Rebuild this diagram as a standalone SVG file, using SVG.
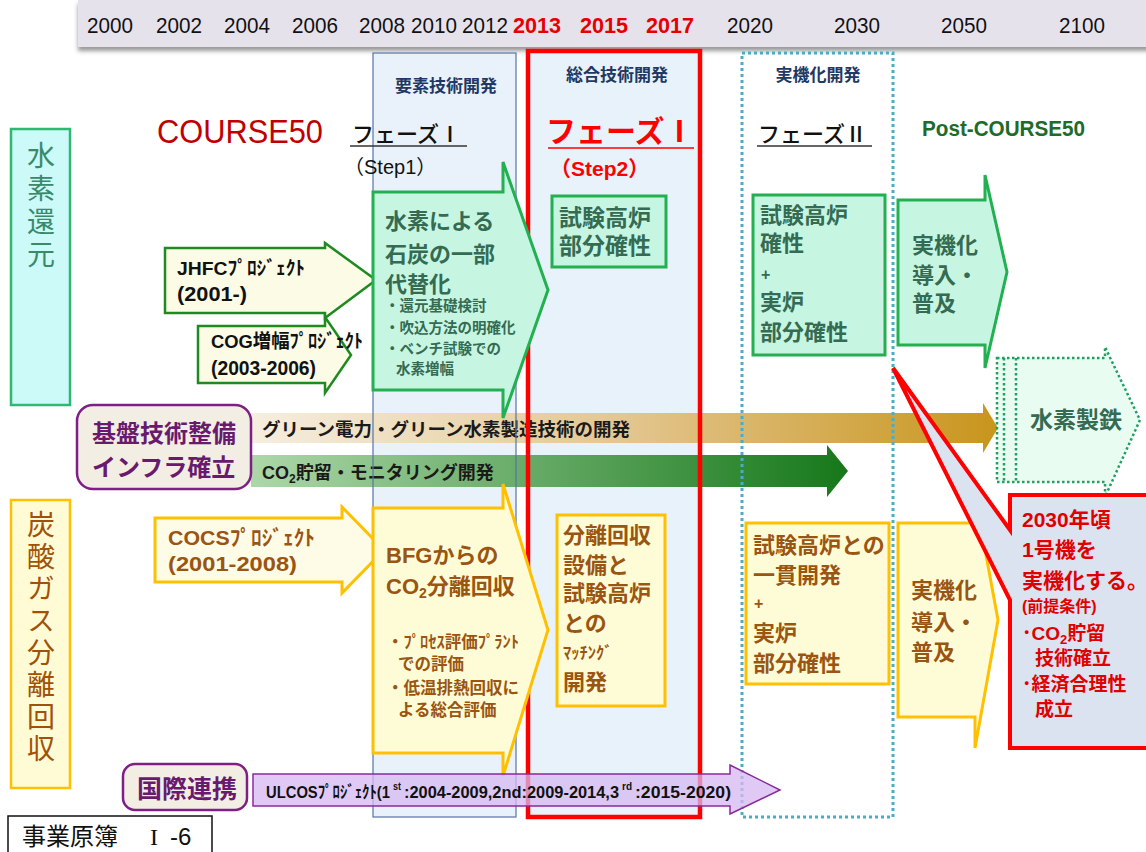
<svg xmlns="http://www.w3.org/2000/svg" width="1146" height="852" viewBox="0 0 1146 852">
<defs>
<filter id="sh" x="-5%" y="-30%" width="110%" height="180%"><feDropShadow dx="0" dy="4" stdDeviation="2" flood-color="#444" flood-opacity="0.55"/></filter>
<linearGradient id="gold" x1="0" x2="1" y1="0" y2="0"><stop offset="0" stop-color="#f6eedf"/><stop offset="0.5" stop-color="#e3c690"/><stop offset="1" stop-color="#c8951c"/></linearGradient>
<linearGradient id="grn" x1="0" x2="1" y1="0" y2="0"><stop offset="0" stop-color="#add7a9"/><stop offset="1" stop-color="#16781a"/></linearGradient>
<style>
.yr{font-family:"Liberation Sans",sans-serif;font-size:22px;fill:#111;text-anchor:middle}
.yrr{font-weight:bold;fill:#e60000}
.jp{font-family:"Liberation Sans","Noto Sans CJK JP",sans-serif}
.b{font-weight:bold}
.gt{fill:#356b52;font-weight:bold}
.bt{fill:#9a5512;font-weight:bold}
.rt{fill:#e00000;font-weight:bold}
.pt{fill:#6a1a6e;font-weight:bold}
.gbox{fill:#c6f6e2;stroke:#22b050;stroke-width:3}
.ybox{fill:#fefcd6;stroke:#ffc000;stroke-width:3}
.cream{fill:#fbfbe6;stroke:#1f8a1f;stroke-width:2.5}
.ycream{fill:#fefbe6;stroke:#ffc000;stroke-width:3}
.pbox{fill:#f2eee4;stroke:#7f1f86;stroke-width:2.5}
.hdr{font-family:"Noto Sans CJK JP",sans-serif;font-size:17px;font-weight:bold;fill:#1f3864;text-anchor:middle}
.ul{font-family:"Liberation Sans","Noto Sans CJK JP",sans-serif;font-weight:bold;fill:#111}
.vt{font-family:"Noto Sans CJK JP",sans-serif;font-size:28px;writing-mode:vertical-rl}
</style>
</defs>
<rect width="1146" height="852" fill="#ffffff"/>

<g id="timeline">
<rect x="78" y="0" width="1080" height="47" fill="#e6e2ec" filter="url(#sh)"/>
<text class="yr" x="110" y="33" textLength="46" lengthAdjust="spacingAndGlyphs">2000</text>
<text class="yr" x="179" y="33" textLength="46" lengthAdjust="spacingAndGlyphs">2002</text>
<text class="yr" x="247" y="33" textLength="46" lengthAdjust="spacingAndGlyphs">2004</text>
<text class="yr" x="315" y="33" textLength="46" lengthAdjust="spacingAndGlyphs">2006</text>
<text class="yr" x="382" y="33" textLength="46" lengthAdjust="spacingAndGlyphs">2008</text>
<text class="yr" x="434" y="33" textLength="46" lengthAdjust="spacingAndGlyphs">2010</text>
<text class="yr" x="485" y="33" textLength="46" lengthAdjust="spacingAndGlyphs">2012</text>
<text class="yr yrr" x="537" y="33" textLength="48" lengthAdjust="spacingAndGlyphs">2013</text>
<text class="yr yrr" x="604" y="33" textLength="48" lengthAdjust="spacingAndGlyphs">2015</text>
<text class="yr yrr" x="670" y="33" textLength="48" lengthAdjust="spacingAndGlyphs">2017</text>
<text class="yr" x="750" y="33" textLength="46" lengthAdjust="spacingAndGlyphs">2020</text>
<text class="yr" x="857" y="33" textLength="46" lengthAdjust="spacingAndGlyphs">2030</text>
<text class="yr" x="964" y="33" textLength="46" lengthAdjust="spacingAndGlyphs">2050</text>
<text class="yr" x="1082" y="33" textLength="46" lengthAdjust="spacingAndGlyphs">2100</text>
</g>

<g id="panel-fills">
<rect x="373" y="53" width="143" height="764" fill="#e9f1fa"/>
<rect x="528" y="51" width="172" height="766" fill="#e8f2fb"/>
</g>

<g id="bar-hydrogen">
<polygon points="251,413 983,413 983,403 998,428 983,453 983,443 251,443" fill="url(#gold)"/>
<text class="jp b" x="262" y="436" font-size="18" fill="#1a1a1a" textLength="368" lengthAdjust="spacingAndGlyphs">グリーン電力・グリーン水素製造技術の開発</text>
</g>
<g id="bar-co2">
<polygon points="251,455 827,455 827,445 848,471 827,497 827,487 251,487" fill="url(#grn)"/>
<text class="jp b" x="262" y="479" font-size="18" fill="#1a1a1a">CO<tspan font-size="12" dy="4">2</tspan><tspan dy="-4">貯留・モニタリング開発</tspan></text>
</g>

<g id="panel-element">
<rect x="373" y="53" width="143" height="764" fill="none" stroke="#5574a8" stroke-width="1.2"/>
<text class="hdr" x="446" y="92">要素技術開発</text>
</g>
<g id="panel-integrated">
<rect x="528" y="51" width="172" height="766" fill="none" stroke="#ff0000" stroke-width="4.5"/>
<text class="hdr" x="617" y="81">総合技術開発</text>
</g>
<g id="panel-practical">
<rect x="742" y="53" width="151" height="764" fill="none" stroke="#4bacc6" stroke-width="3" stroke-dasharray="3 3"/>
<text class="hdr" x="818" y="81">実機化開発</text>
</g>

<g id="titles">
<text x="157" y="143" font-family="Liberation Sans,sans-serif" font-size="34" fill="#c00000" textLength="166" lengthAdjust="spacingAndGlyphs">COURSE50</text>
<text class="jp" x="352" y="142" font-size="22" font-weight="500" fill="#111">フェーズⅠ</text>
<line x1="350" y1="146" x2="467" y2="146" stroke="#333" stroke-width="1.5"/>
<text class="jp" x="344" y="174" font-size="20" fill="#111">（Step1）</text>
<text class="jp b" x="546" y="142" font-size="30" fill="#ff0000">フェーズⅠ</text>
<line x1="548" y1="148" x2="694" y2="148" stroke="#ff0000" stroke-width="1.5"/>
<text class="jp b" x="550" y="176" font-size="21" fill="#ff0000">（Step2）</text>
<text class="jp" x="758" y="142" font-size="22" font-weight="500" fill="#111">フェーズⅡ</text>
<line x1="757" y1="146" x2="872" y2="146" stroke="#333" stroke-width="1.5"/>
<text x="922" y="136" font-family="Liberation Sans,sans-serif" font-size="22" font-weight="bold" fill="#1e6b2a" textLength="163" lengthAdjust="spacingAndGlyphs">Post-COURSE50</text>
</g>

<g id="label-hydrogen">
<rect x="11" y="129" width="59" height="276" fill="#ccfaf8" stroke="#2eb872" stroke-width="2.5"/>
<text class="vt" x="41" y="141" fill="#3a8a6a" letter-spacing="5">水素還元</text>
</g>
<g id="label-co2">
<rect x="11" y="500" width="59" height="288" fill="#fffbd4" stroke="#ffc000" stroke-width="2.5"/>
<text class="vt" x="41" y="510" fill="#a0520a" letter-spacing="4">炭酸ガス分離回収</text>
</g>

<g id="jhfc">
<polygon class="cream" points="165,248 325,248 325,243 376,280 325,318 325,313 165,313"/>
<text class="jp b" x="177" y="275" font-size="19" fill="#111" textLength="128" lengthAdjust="spacingAndGlyphs">JHFCﾌﾟﾛｼﾞｪｸﾄ</text>
<text class="jp b" x="177" y="301" font-size="20" fill="#111" textLength="70" lengthAdjust="spacingAndGlyphs">(2001-)</text>
</g>
<g id="cog">
<polygon class="cream" points="198,326 325,326 325,317 351,355 325,393 325,383 198,383"/>
<text class="jp b" x="211" y="348" font-size="19" fill="#111" textLength="152" lengthAdjust="spacingAndGlyphs">COG増幅ﾌﾟﾛｼﾞｪｸﾄ</text>
<text class="jp b" x="211" y="375" font-size="20" fill="#111" textLength="105" lengthAdjust="spacingAndGlyphs">(2003-2006)</text>
</g>
<g id="cocs">
<polygon class="ycream" points="155,518 342,518 342,507 384,550 342,593 342,582 155,582"/>
<text class="jp bt" x="168" y="545" font-size="21" textLength="147" lengthAdjust="spacingAndGlyphs">COCSﾌﾟﾛｼﾞｪｸﾄ</text>
<text class="jp bt" x="168" y="571" font-size="21" textLength="129" lengthAdjust="spacingAndGlyphs">(2001-2008)</text>
</g>

<g id="h2-step1">
<polygon class="gbox" points="373,192 503,192 503,162 548,290 503,418 503,390 373,390"/>
<text class="jp gt" font-size="22"><tspan x="385" y="229">水素による</tspan><tspan x="385" y="262">石炭の一部</tspan><tspan x="385" y="292">代替化</tspan></text>
<text class="jp gt" font-size="14.5"><tspan x="385" y="311">・還元基礎検討</tspan><tspan x="385" y="333">・吹込方法の明確化</tspan><tspan x="385" y="354">・ベンチ試験での</tspan><tspan x="396" y="374">水素増幅</tspan></text>
</g>
<g id="co2-step1">
<polygon class="ybox" points="373,508 503,508 503,484 548,630 503,776 503,753 373,753"/>
<text class="jp bt" font-size="22"><tspan x="386" y="563">BFGからの</tspan><tspan x="386" y="594">CO</tspan><tspan font-size="14" dy="4">2</tspan><tspan dy="-4">分離回収</tspan></text>
<text class="jp bt" font-size="16.5"><tspan x="387" y="648">・ﾌﾟﾛｾｽ評価ﾌﾟﾗﾝﾄ</tspan><tspan x="398" y="670">での評価</tspan><tspan x="387" y="694">・低温排熱回収に</tspan><tspan x="398" y="716">よる総合評価</tspan></text>
</g>

<g id="h2-step2">
<rect class="gbox" x="552" y="196" width="114" height="71"/>
<text class="jp gt" font-size="23"><tspan x="559" y="226">試験高炉</tspan><tspan x="559" y="254">部分確性</tspan></text>
</g>
<g id="co2-step2">
<rect class="ybox" x="557" y="515" width="108" height="191"/>
<text class="jp bt" font-size="22"><tspan x="563" y="543">分離回収</tspan><tspan x="563" y="573">設備と</tspan><tspan x="563" y="601">試験高炉</tspan><tspan x="563" y="631">との</tspan><tspan x="563" y="659" font-size="16.5">ﾏｯﾁﾝｸﾞ</tspan><tspan x="563" y="690">開発</tspan></text>
</g>

<g id="h2-phase2">
<rect class="gbox" x="753" y="195" width="132" height="160"/>
<text class="jp gt" font-size="22"><tspan x="760" y="223">試験高炉</tspan><tspan x="760" y="251">確性</tspan><tspan x="761" y="280" font-size="16">+</tspan><tspan x="760" y="310">実炉</tspan><tspan x="760" y="340">部分確性</tspan></text>
</g>
<g id="co2-phase2">
<rect class="ybox" x="746" y="523" width="143" height="161"/>
<text class="jp bt" font-size="22"><tspan x="753" y="553">試験高炉との</tspan><tspan x="753" y="583">一貫開発</tspan><tspan x="754" y="609" font-size="16">+</tspan><tspan x="753" y="641">実炉</tspan><tspan x="753" y="671">部分確性</tspan></text>
</g>

<g id="h2-post">
<polygon class="gbox" points="898,200 985,200 985,175 1007,272 985,368 985,345 898,345"/>
<text class="jp gt" font-size="22"><tspan x="912" y="253">実機化</tspan><tspan x="912" y="283">導入・</tspan><tspan x="912" y="311">普及</tspan></text>
</g>
<g id="co2-post">
<polygon class="ybox" points="898,523 975,523 975,495 998,620 975,748 975,717 898,717"/>
<text class="jp bt" font-size="22"><tspan x="911" y="598">実機化</tspan><tspan x="911" y="630">導入・</tspan><tspan x="911" y="660">普及</tspan></text>
</g>

<g id="h2-steelmaking">
<polygon points="997,358 1105,358 1105,347 1140,420 1105,497 1105,482 997,482" fill="#e8fcf2" stroke="#20a060" stroke-width="2.5" stroke-dasharray="2.5 2.5"/>
<line x1="1004" y1="358" x2="1004" y2="482" stroke="#20a060" stroke-width="2.5" stroke-dasharray="2.5 2.5"/>
<line x1="1016" y1="358" x2="1016" y2="482" stroke="#20a060" stroke-width="2.5" stroke-dasharray="2.5 2.5"/>
<text class="jp gt" x="1030" y="428" font-size="23" fill="#3a7a5a">水素製鉄</text>
</g>

<g id="infra">
<rect class="pbox" x="77" y="405" width="174" height="84" rx="16"/>
<text class="jp pt" font-size="24"><tspan x="92" y="442">基盤技術整備</tspan><tspan x="92" y="476">インフラ確立</tspan></text>
</g>

<g id="intl">
<rect class="pbox" x="123" y="764" width="124" height="46" rx="12"/>
<text class="jp pt" x="137" y="798" font-size="25">国際連携</text>
</g>
<g id="ulcos">
<polygon points="253,774 730,774 730,765 780,790 730,814 730,806 253,806" fill="#d6b8f2" fill-opacity="0.75" stroke="#8a2a9a" stroke-width="1.5"/>
<text class="ul" x="266" y="798" font-size="17" textLength="124" lengthAdjust="spacingAndGlyphs">ULCOSﾌﾟﾛｼﾞｪｸﾄ(1</text>
<text class="ul" x="393" y="790" font-size="10" textLength="8" lengthAdjust="spacingAndGlyphs">st</text>
<text class="ul" x="404" y="798" font-size="17" textLength="215" lengthAdjust="spacingAndGlyphs">:2004-2009,2nd:2009-2014,3</text>
<text class="ul" x="622" y="790" font-size="10" textLength="10" lengthAdjust="spacingAndGlyphs">rd</text>
<text class="ul" x="635" y="798" font-size="17" textLength="96" lengthAdjust="spacingAndGlyphs">:2015-2020)</text>
</g>

<g id="target-callout">
<path d="M1010,495 L1150,495 L1150,748 L1010,748 L1010,600 L893,368 L1010,530 Z" fill="#dce3f0" stroke="#ff0000" stroke-width="4" stroke-linejoin="miter"/>
<text class="jp rt" font-size="21"><tspan x="1022" y="527">2030年頃</tspan><tspan x="1022" y="557">1号機を</tspan><tspan x="1022" y="588">実機化する。</tspan></text>
<text class="jp rt" x="1022" y="612" font-size="16">(前提条件)</text>
<text class="jp rt" font-size="19"><tspan x="1022" y="640">･CO</tspan><tspan font-size="13" dy="4">2</tspan><tspan dy="-4">貯留</tspan><tspan x="1035" y="665">技術確立</tspan><tspan x="1022" y="691">･経済合理性</tspan><tspan x="1035" y="716">成立</tspan></text>
</g>

<g id="connectors"></g>

<g id="doc-ref">
<rect x="8" y="816" width="204" height="50" fill="#ffffff" stroke="#111" stroke-width="1.5"/>
<text font-family="Noto Sans CJK JP,sans-serif" font-size="24" fill="#111" x="22" y="845">事業原簿</text>
<text font-family="Liberation Serif,serif" font-size="24" fill="#111" x="150" y="845">I</text>
<text font-family="Liberation Sans,sans-serif" font-size="24" fill="#111" x="170" y="845">-6</text>
</g>
</svg>
